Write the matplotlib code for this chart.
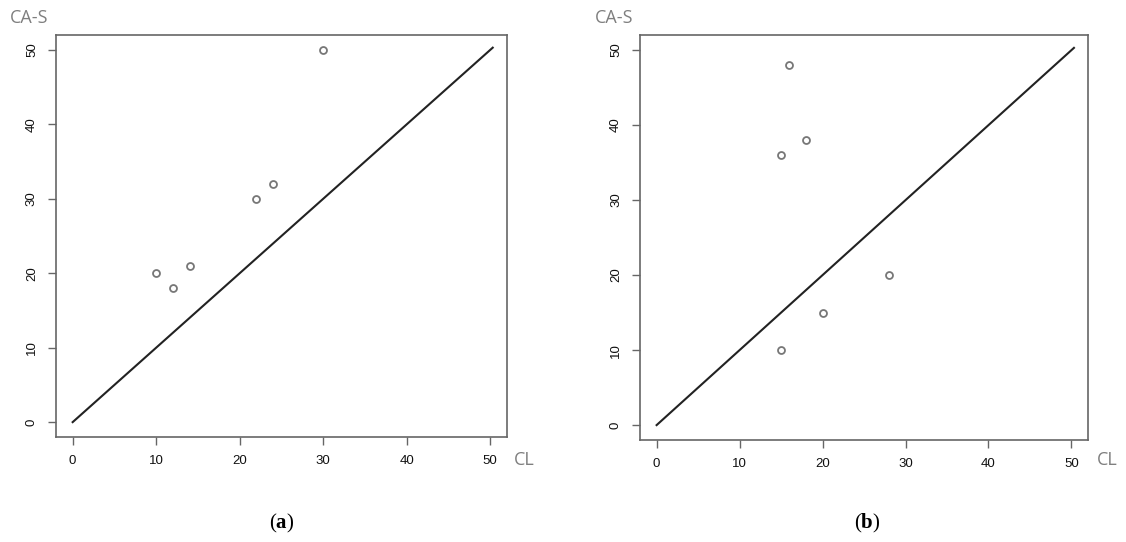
import matplotlib.pyplot as plt

# panel (a)
cl_a = [10, 12, 14, 22, 24, 30]
cas_a = [20, 18, 21, 30, 32, 50]
# panel (b)
cl_b = [15, 16, 18, 15, 20, 28]
cas_b = [36, 48, 38, 10, 15, 20]

ticks = [0, 10, 20, 30, 40, 50]
line_xy = [0, 50.3]

plt.rcParams['font.family'] = ['Liberation Sans', 'DejaVu Sans']
plt.rcParams['mathtext.fontset'] = 'custom'
plt.rcParams['mathtext.rm'] = 'Liberation Serif'
plt.rcParams['mathtext.bf'] = 'Liberation Serif:bold'

fig = plt.figure(figsize=(11.26, 5.42), dpi=100)
ax_a = fig.add_axes([0.0497, 0.1937, 0.4005, 0.7417])
ax_b = fig.add_axes([0.5684, 0.1880, 0.3979, 0.7472])


def draw_panel(ax, x, y):
    ax.plot(line_xy, line_xy, color='#222222', lw=1.5)
    ax.plot(x, y, 'o', ms=5, mfc='white', mec='#777777', mew=1.3, ls='none')
    ax.set_xlim(-2, 52)
    ax.set_ylim(-2, 52)
    ax.set_xticks(ticks)
    ax.set_yticks(ticks)
    ax.set_yticklabels([str(t) for t in ticks], rotation=90, va='center')
    ax.tick_params(length=6, width=1, color='#666666', labelsize=9.5, pad=7,
                   labelcolor='#111111')
    for s in ax.spines.values():
        s.set_color('#666666')
        s.set_linewidth(1.2)


draw_panel(ax_a, cl_a, cas_a)
draw_panel(ax_b, cl_b, cas_b)

grey = '#7f7f7f'
fig.text(10 / 1126, 1 - 18 / 542, 'CA-S', color=grey, fontsize=13,
         family=['Open Sans', 'DejaVu Sans'], va='center', ha='left')
fig.text(595 / 1126, 1 - 18 / 542, 'CA-S', color=grey, fontsize=13,
         family=['Open Sans', 'DejaVu Sans'], va='center', ha='left')
fig.text(514 / 1126, 1 - 460 / 542, 'CL', color=grey, fontsize=13,
         family=['Open Sans', 'DejaVu Sans'], va='center', ha='left')
fig.text(1097 / 1126, 1 - 460 / 542, 'CL', color=grey, fontsize=13,
         family=['Open Sans', 'DejaVu Sans'], va='center', ha='left')

fig.text(282 / 1126, 1 - 523 / 542, r'($\mathbf{a}$)', fontsize=15,
         family='Liberation Serif', ha='center', va='center')
fig.text(867 / 1126, 1 - 523 / 542, r'($\mathbf{b}$)', fontsize=15,
         family='Liberation Serif', ha='center', va='center')

fig.savefig('out.png', dpi=100)
